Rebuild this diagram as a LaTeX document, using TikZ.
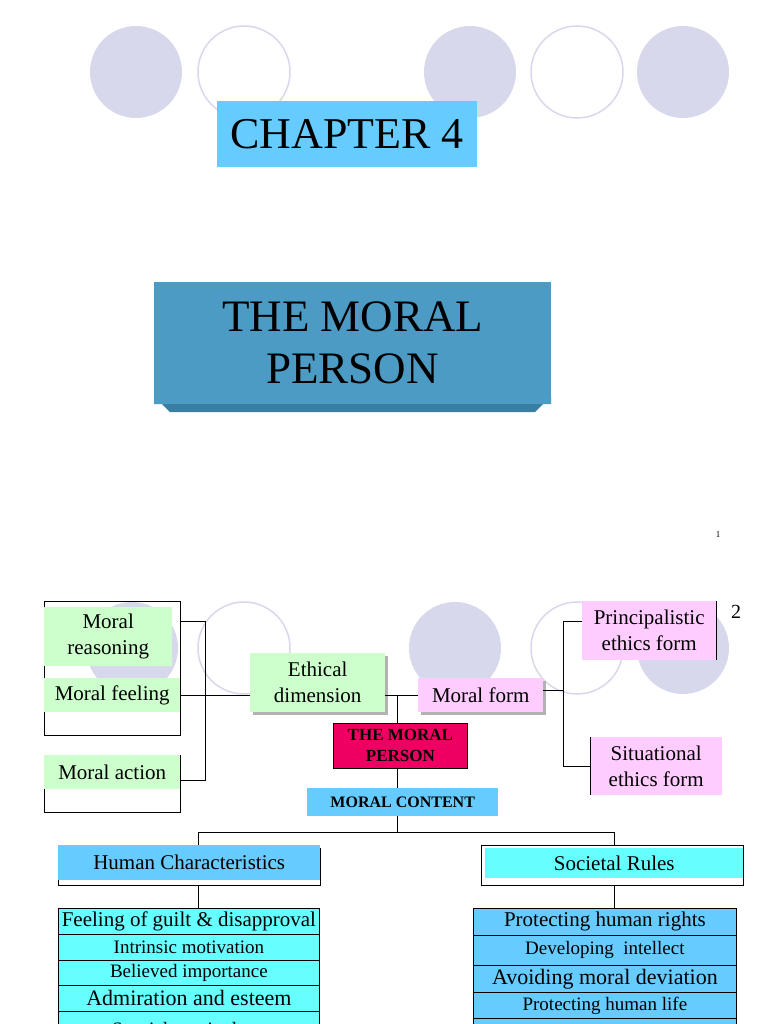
\documentclass[tikz,border=0pt]{standalone}
\usepackage{fontspec}
\setmainfont{Liberation Serif}
\begin{document}
\begin{tikzpicture}[x=1pt,y=-1pt,
  filled/.style={fill=lav,draw=none},
  ring/.style={draw=lav,line width=1.5pt,fill=white},
  ln/.style={draw=black,line width=0.8pt},
  bx/.style={draw=none,anchor=north west,align=center,inner sep=0pt},
  row/.style={draw=black,line width=0.8pt,anchor=north west,align=center,inner sep=0pt,minimum width=261pt}]
\definecolor{lav}{HTML}{D8D8EC}
\definecolor{skyb}{HTML}{66CCFF}
\definecolor{cyanb}{HTML}{66FFFF}
\definecolor{teal1}{HTML}{4B9BC4}
\definecolor{teal2}{HTML}{3A7EA3}
\definecolor{grn}{HTML}{CCFFCC}
\definecolor{pnk}{HTML}{FFCCFF}
\definecolor{mag}{HTML}{EE0062}
\useasboundingbox (0,0) rectangle (768,1024);
% slide 1
\fill[lav] (136,72) circle (46);
\draw[ring] (244,72) circle (46);
\fill[lav] (470,72) circle (46);
\draw[ring] (577,72) circle (46);
\fill[lav] (683,72) circle (46);
\node[bx,fill=skyb,minimum width=260pt,minimum height=66pt,font=\fontsize{44}{48}\selectfont] (ch) at (217,101) {CHAPTER 4};
\fill[teal2] (154,404) -- (551,404) -- (551,396) -- (535,412) -- (170,412) -- (154,396) -- cycle;
\node[bx,fill=teal1,minimum width=397pt,minimum height=122pt,font=\fontsize{45}{52}\selectfont] (tmp) at (154,282) {THE MORAL\\PERSON};
\node[font=\fontsize{9}{10}\selectfont] (p1) at (718,535) {1};
% slide 2
\fill[lav] (132,648) circle (46);
\draw[ring] (244,648) circle (46);
\fill[lav] (455,648) circle (46);
\draw[ring] (577,648) circle (46);
\fill[lav] (683,648) circle (46);
\node[font=\fontsize{20}{22}\selectfont] (p2) at (736,612) {2};
\draw[ln] (44,601) rectangle (180,735);
\draw[ln] (44,755) rectangle (180,812);
\node[bx,fill=grn,minimum width=128pt,minimum height=59pt,font=\fontsize{21}{26}\selectfont] (mr) at (44,607) {Moral\\reasoning};
\node[bx,fill=grn,minimum width=136pt,minimum height=34pt,font=\fontsize{21}{22}\selectfont] (mf) at (44,678) {Moral feeling};
\node[bx,fill=grn,minimum width=136pt,minimum height=34pt,font=\fontsize{21}{22}\selectfont] (ma) at (44,755) {Moral action};
\coordinate (b1) at (205,621);
\coordinate (b2) at (205,780);
\draw[ln] (180,621) -- (b1) -- (b2) -- (180,780);
\fill[gray!60] (253,656) rectangle (388,715);
\node[bx,fill=grn,minimum width=135pt,minimum height=59pt,font=\fontsize{21}{26}\selectfont] (ed) at (250,653) {Ethical\\dimension};
\draw[ln] (180,695) -- (ed.west |- 0,695);
\fill[gray!60] (421,681) rectangle (546,715);
\node[bx,fill=pnk,minimum width=125pt,minimum height=34pt,font=\fontsize{21}{22}\selectfont] (mo) at (418,678) {Moral form};
\draw[ln] (385,695) -- (418,695);
\node[bx,fill=pnk,minimum width=134pt,minimum height=59pt,font=\fontsize{21}{26}\selectfont] (pe) at (582,601) {Principalistic\\ethics form};
\draw[ln] (716,601) -- (716,660);
\node[bx,fill=pnk,minimum width=132pt,minimum height=58pt,font=\fontsize{21}{26}\selectfont] (se) at (590,737) {Situational\\ethics form};
\draw[ln] (590,737) -- (590,795);
\draw[ln] (543,690) -- (563,690);
\draw[ln] (582,621) -- (563,621) -- (563,766) -- (590,766);
\node[bx,draw=black,line width=0.8pt,fill=mag,minimum width=134pt,minimum height=45pt,font=\fontsize{17}{21}\selectfont\bfseries] (tp) at (333,723) {THE MORAL\\PERSON};
\node[bx,fill=skyb,minimum width=191pt,minimum height=28pt,font=\fontsize{16}{17}\selectfont\bfseries] (mc) at (307,788) {MORAL CONTENT};
\draw[ln] (397,695) -- (tp.north -| 397,0);
\draw[ln] (tp.south -| 397,0) -- (mc.north -| 397,0);
\draw[ln] (mc.south -| 397,0) -- (397,832);
\draw[ln] (198,845) -- (198,832) -- (614,832) -- (614,845);
\draw[ln] (58,848) rectangle (320,885);
\node[bx,fill=skyb,minimum width=262pt,minimum height=35pt,font=\fontsize{21}{22}\selectfont] (hc) at (58,845) {Human Characteristics};
\draw[ln] (481,845) rectangle (743,885);
\node[bx,fill=cyanb,minimum width=258pt,minimum height=30pt,font=\fontsize{21}{22}\selectfont] (sr) at (485,848) {Societal Rules};
\draw[ln] (198,885) -- (198,908);
\draw[ln] (614,885) -- (614,908);
\node[row,fill=cyanb,minimum height=26pt,font=\fontsize{21}{22}\selectfont] (l1) at (58,908) {Feeling of guilt \& disapproval};
\node[row,fill=cyanb,minimum height=26pt,font=\fontsize{19}{19}\selectfont] (l2) at (58,934) {Intrinsic motivation};
\node[row,fill=cyanb,minimum height=25pt,font=\fontsize{19}{19}\selectfont] (l3) at (58,960) {Believed importance};
\node[row,fill=cyanb,minimum height=26pt,font=\fontsize{22}{22}\selectfont] (l4) at (58,985) {Admiration and esteem};
\node[row,fill=cyanb,minimum height=26pt,font=\fontsize{19}{19}\selectfont,text depth=0pt,anchor=north west] (l5) at (58,1011) {\raisebox{-8pt}{Special terminology}};
\node[row,fill=skyb,minimum height=27pt,minimum width=263pt,font=\fontsize{21}{22}\selectfont] (r1) at (473,908) {Protecting human rights};
\node[row,fill=skyb,minimum height=30pt,minimum width=263pt,font=\fontsize{19}{19}\selectfont] (r2) at (473,935) {Developing\ \ intellect};
\node[row,fill=skyb,minimum height=27pt,minimum width=263pt,font=\fontsize{22}{22}\selectfont] (r3) at (473,965) {Avoiding moral deviation};
\node[row,fill=skyb,minimum height=26pt,minimum width=263pt,font=\fontsize{19}{19}\selectfont] (r4) at (473,992) {Protecting human life};
\node[row,fill=skyb,minimum height=26pt,minimum width=263pt] (r5) at (473,1018) {};
\end{tikzpicture}
\end{document}
